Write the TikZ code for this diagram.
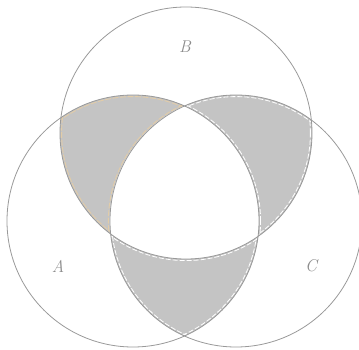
\documentclass[tikz,border=0pt]{standalone}
\begin{document}
\begin{tikzpicture}[x=1pt,y=1pt,
  ring/.style={draw=black!40, line width=0.8pt},
  edgedash/.style={draw=white, line width=0.8pt, dash pattern=on 5pt off 2pt},
  tandash/.style={draw={rgb,255:red,226;green,204;blue,168}, line width=0.9pt, dash pattern=on 6pt off 1.5pt},
  lbl/.style={text=black!45, font=\fontsize{17}{20}\selectfont\itshape}]
\useasboundingbox (0,0) rectangle (359,349);
\def\R{126}
\coordinate (A) at (133,128);
\coordinate (B) at (186,216);
\coordinate (C) at (236,128);
% pairwise intersections
\begin{scope}\clip (A) circle (\R); \fill[black!23] (B) circle (\R);\end{scope}
\begin{scope}\clip (B) circle (\R); \fill[black!23] (C) circle (\R);\end{scope}
\begin{scope}\clip (A) circle (\R); \fill[black!23] (C) circle (\R);\end{scope}
% inner dashed outlines
\begin{scope}\clip (A) circle (\R); \clip (B) circle (\R);
  \draw[tandash] (A) circle (\R-1.6); \draw[tandash] (B) circle (\R-1.6); \draw[tandash] (C) circle (\R+1.6);
\end{scope}
\begin{scope}\clip (B) circle (\R); \clip (C) circle (\R);
  \draw[edgedash] (B) circle (\R-1.6); \draw[edgedash] (C) circle (\R-1.6); \draw[edgedash] (A) circle (\R+1.6);
\end{scope}
\begin{scope}\clip (A) circle (\R); \clip (C) circle (\R);
  \draw[edgedash] (A) circle (\R-1.6); \draw[edgedash] (C) circle (\R-1.6); \draw[edgedash] (B) circle (\R+1.6);
\end{scope}
% triple intersection white
\begin{scope}\clip (A) circle (\R); \clip (B) circle (\R); \fill[white] (C) circle (\R+0.4);\end{scope}
% circles
\draw[ring] (A) circle (\R);
\draw[ring] (B) circle (\R);
\draw[ring] (C) circle (\R);
\node[lbl] (la) at (58,83) {A};
\node[lbl] (lb) at (185,302) {B};
\node[lbl] (lc) at (311,83) {C};
\end{tikzpicture}
\end{document}
